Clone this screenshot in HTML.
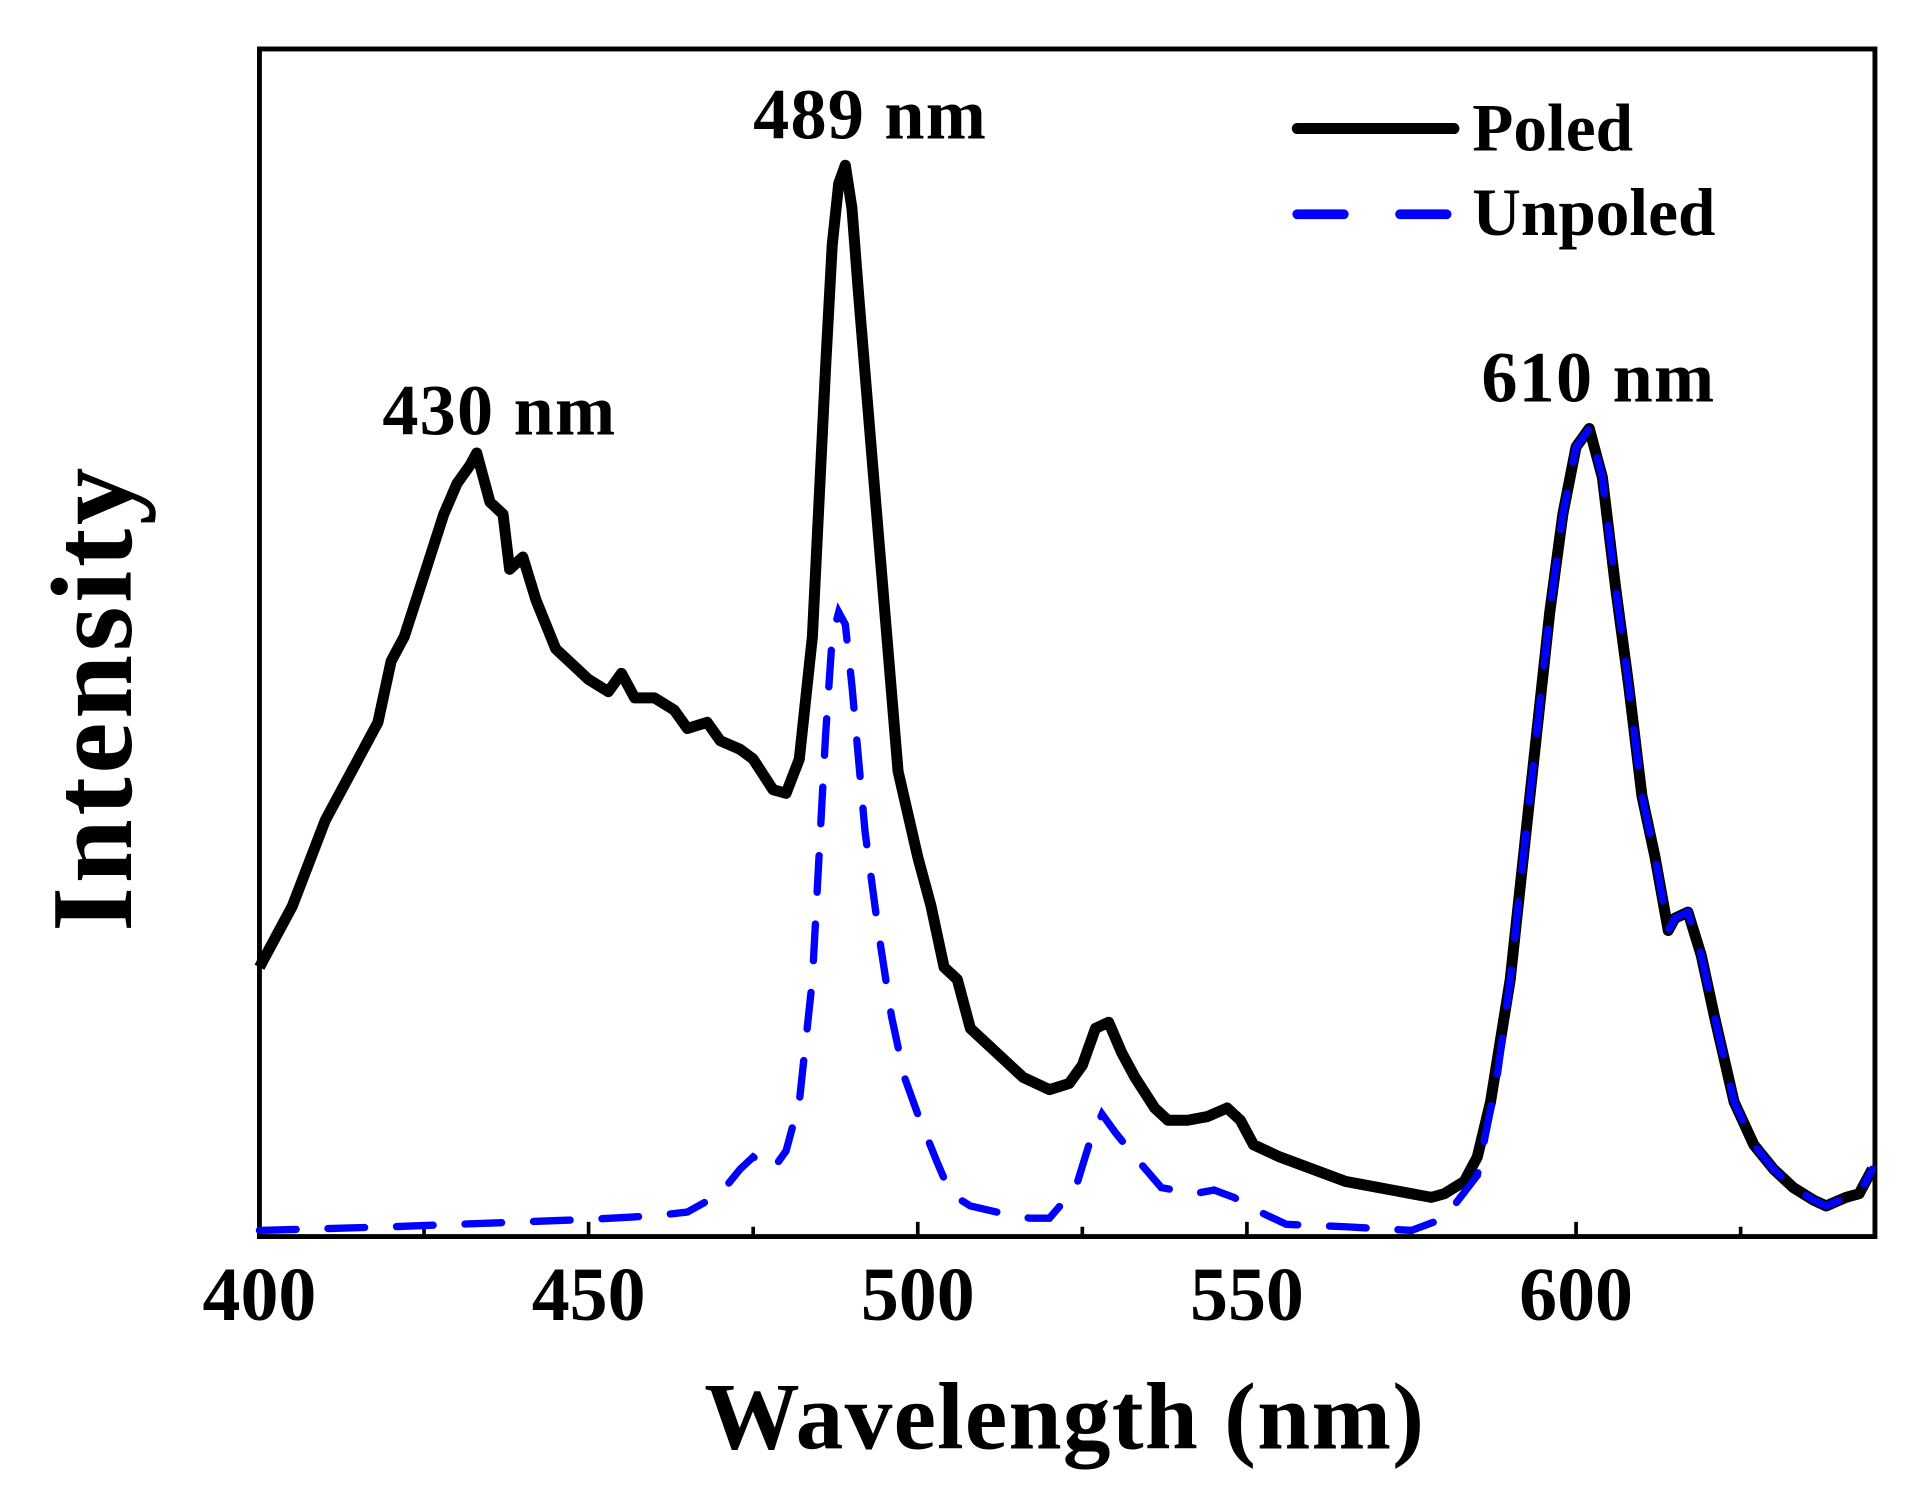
<!DOCTYPE html>
<html><head><meta charset="utf-8"><style>
html,body{margin:0;padding:0;background:#fff;}
svg{display:block;}
text{font-family:"Liberation Serif",serif;font-weight:bold;fill:#000;}
</style></head><body>
<svg id="chart" width="1919" height="1501" viewBox="0 0 1568 1226" preserveAspectRatio="none" xmlns="http://www.w3.org/2000/svg">
<rect x="212" y="40" width="1320" height="970" fill="none" stroke="#000" stroke-width="4"/>
<g id="ticks"></g>
<g id="series"></g>
<text transform="translate(107,570) rotate(-90)" text-anchor="middle" font-size="94" letter-spacing="3">Intensity</text>
<text x="870" y="1183" text-anchor="middle" font-size="78" letter-spacing="1">Wavelength (nm)</text>
<text x="408" y="355" text-anchor="middle" font-size="59" letter-spacing="1">430 nm</text>
<text x="711" y="113" text-anchor="middle" font-size="59" letter-spacing="1">489 nm</text>
<text x="1306" y="328" text-anchor="middle" font-size="59" letter-spacing="1">610 nm</text>
<line x1="1060" y1="105" x2="1188" y2="105" stroke="#000" stroke-width="9" stroke-linecap="round"/>
<text x="1203" y="123" font-size="55">Poled</text>
<line x1="1060" y1="175" x2="1188" y2="175" stroke="#0000ff" stroke-width="8" stroke-linecap="round" stroke-dasharray="38 46"/>
<text x="1203" y="192" font-size="55">Unpoled</text>
</svg>
<script>
const xTicks = [400, 450, 500, 550, 600];
const minorTicks = [425, 475, 525, 575, 625];
const poledX = [400,405,410,415,418,420,422,425,428,430,432,433,435,437,438,440,442,445,448,450,453,455,457,460,463,465,468,470,473,475,478,480,482,484,486,487,488,489,490,491,493,495,497,500,502,504,506,508,510,513,516,520,523,525,527,529,531,533,536,538,541,544,547,549,551,555,560,565,570,575,578,580,583,585,587,590,593,596,598,600,602,604,606,608,610,612,614,615,617,619,621,624,627,630,633,636,638,641,643,645];
const poledY = [220,270,340,390,420,470,490,540,590,615,630,640,600,590,545,555,520,480,465,455,445,460,440,440,430,415,420,405,398,390,365,362,390,490,710,810,860,875,840,770,640,510,380,310,270,220,210,170,160,145,130,120,125,140,170,175,150,130,105,95,95,98,105,95,75,65,55,45,40,35,32,35,45,65,110,210,360,510,590,645,660,620,530,450,360,310,250,260,265,230,180,110,75,55,40,30,25,32,35,55];
const unpoledX = [400,420,430,440,450,460,465,470,473,475,478,480,482,484,485,486,487,488,489,490,491,492,494,496,498,500,503,505,508,512,517,520,524,526,528,530,533,537,542,545,548,552,556,565,575,580,585,588,590,593,596,598,600,602,604,606,608,610,612,614,615,617,619,621,624,627,630,633,636,638,641,643,645];
const unpoledY = [5,8,10,12,14,17,20,35,55,65,55,70,110,210,310,410,490,510,500,450,390,330,250,180,130,100,60,35,25,20,15,15,40,75,100,85,65,40,35,38,32,20,10,8,5,15,50,130,210,360,510,590,645,660,620,530,450,360,310,250,260,265,230,180,110,75,55,40,30,25,32,35,55];
const L=212,R=1532,T=40,B=1010;
function xs(v){return L+(v-400)*(R-L)/(645.4-400);}
function ys(v){return B-v*(B-T)/970;}
const NS="http://www.w3.org/2000/svg";
const tg=document.getElementById('ticks');
xTicks.forEach(t=>{
  const l=document.createElementNS(NS,'line');
  
  
  l.setAttribute('x1',xs(t));l.setAttribute('x2',xs(t));l.setAttribute('y1',B);l.setAttribute('y2',B-12);
  l.setAttribute('stroke','#000');l.setAttribute('stroke-width','3');tg.appendChild(l);
  const tx=document.createElementNS(NS,'text');
  
  
  tx.setAttribute('x',xs(t));tx.setAttribute('y',1078);tx.setAttribute('text-anchor','middle');tx.setAttribute('font-size','62');
  tx.textContent=t;tg.appendChild(tx);
});
minorTicks.forEach(t=>{
  const l=document.createElementNS(NS,'line');
  
  
  l.setAttribute('x1',xs(t));l.setAttribute('x2',xs(t));l.setAttribute('y1',B);l.setAttribute('y2',B-8);
  l.setAttribute('stroke','#000');l.setAttribute('stroke-width','3');tg.appendChild(l);
});
const sg=document.getElementById('series');
function path(xa,ya){return xa.map((x,i)=>(i?'L':'M')+xs(x).toFixed(1)+' '+ys(ya[i]).toFixed(1)).join(' ');}
const p1=document.createElementNS(NS,'path');


p1.setAttribute('d',path(poledX,poledY));p1.setAttribute('fill','none');p1.setAttribute('stroke','#000');p1.setAttribute('stroke-width','9');p1.setAttribute('stroke-linejoin','round');
sg.appendChild(p1);
const p2=document.createElementNS(NS,'path');


p2.setAttribute('d',path(unpoledX,unpoledY));p2.setAttribute('fill','none');p2.setAttribute('stroke','#0000ff');p2.setAttribute('stroke-width','6');p2.setAttribute('stroke-dasharray','30 26');p2.setAttribute('stroke-linecap','round');
sg.appendChild(p2);
</script>
</body></html>
